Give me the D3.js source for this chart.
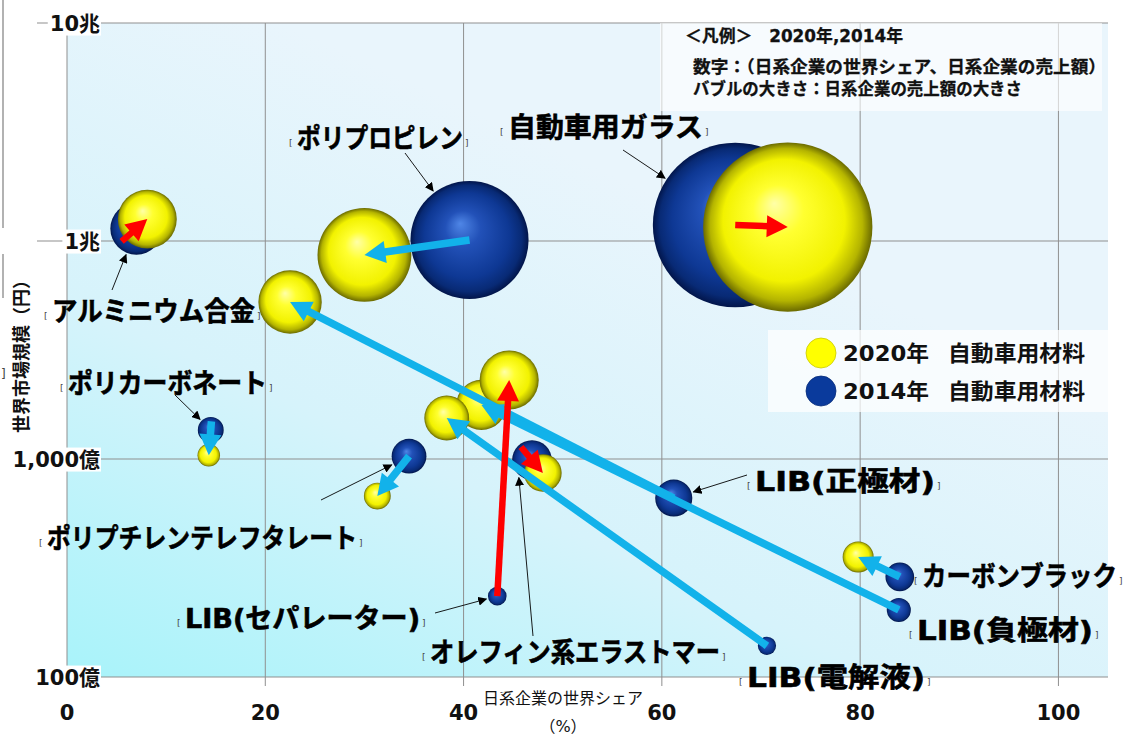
<!DOCTYPE html>
<html>
<head>
<meta charset="utf-8">
<script src="https://cdn.jsdelivr.net/npm/d3@7"></script>
<style>
  body { margin: 0; background: #fff; }
  svg { display: block; }
  text { font-family: "DejaVu Sans", "Noto Sans CJK JP", sans-serif; }
</style>
</head>
<body>
<div id="chart"></div>
<script>

// Materials (one entry per bubble pair)
var materials = ["アルミニウム合金", "ポリプロピレン", "自動車用ガラス", "ポリカーボネート",
  "ポリプチレンテレフタレート", "LIB(正極材)", "LIB(負極材)", "カーボンブラック",
  "LIB(電解液)", "オレフィン系エラストマー", "LIB(セパレーター)"];

// Japanese companies' world share (%)
var share2014 = [7.0, 40.6, 67.4, 14.5, 34.5, 61.2, 83.9, 84.0, 70.6, 46.9, 43.4];
var share2020 = [8.1, 30.0, 72.7, 14.3, 31.3, 22.5, 41.8, 79.8, 38.3, 48.0, 44.6];

// World market size (億円)
var market2014 = [11400, 10100, 11840, 1360, 1030, 662, 203, 288, 139, 989, 235];
var market2020 = [12600, 8630, 11590, 1040, 676, 5250, 1770, 355, 1542, 863, 2303];

// Axis ticks
var xTicks = [0, 20, 40, 60, 80, 100];
var yTicks = [100, 1000, 10000, 100000];
var yTickLabels = ["100億", "1,000億", "1兆", "10兆"];

var legendYears = ["2020年", "2014年"];
var noteLines = ["＜凡例＞　2020年,2014年", "数字：（日系企業の世界シェア、日系企業の売上額）", "バブルの大きさ：日系企業の売上額の大きさ"];

// Label placement (pixels): text left x, centre y, width, pointer start, optional pointer direction
var labelLayout = [
  { x: 52, y: 311, w: 203, px: 112, py: 290 },
  { x: 297, y: 138, w: 166, px: 405, py: 153 },
  { x: 508, y: 127, w: 195, px: 623, py: 150 },
  { x: 68, y: 383, w: 199, px: 175, py: 395 },
  { x: 47, y: 538, w: 310, px: 321, py: 500 },
  { x: 755, y: 481, w: 180, px: 747, py: 475 },
  { x: 917, y: 630, w: 176 },
  { x: 922, y: 576, w: 195 },
  { x: 747, y: 677, w: 178 },
  { x: 430, y: 652, w: 290, px: 533, py: 636, dir: [-0.6, 0.8] },
  { x: 185, y: 618, w: 235, px: 435, py: 613 }
];

var W = 1130, H = 734;
var plot = { left: 67, right: 1108, top: 23, bottom: 677 };

var svg = d3.select("#chart").append("svg")
  .attr("width", W).attr("height", H);

var defs = svg.append("defs");

// plot background gradient
var bg = defs.append("linearGradient").attr("id", "bg")
  .attr("x1", 0).attr("y1", 1).attr("x2", 0.55).attr("y2", 0.25);
bg.append("stop").attr("offset", 0).attr("stop-color", "#a8f3fa");
bg.append("stop").attr("offset", 0.5).attr("stop-color", "#d6f3fb");
bg.append("stop").attr("offset", 1).attr("stop-color", "#e9f5fc");

// sphere shading
function sphere(id, stops) {
  var g = defs.append("radialGradient").attr("id", id)
    .attr("cx", "50%").attr("cy", "50%").attr("r", "50%")
    .attr("fx", "42%").attr("fy", "36%");
  stops.forEach(function (s) {
    g.append("stop").attr("offset", s[0]).attr("stop-color", s[1]);
  });
}
sphere("yellowBall", [[0, "#ffffa8"], [0.3, "#ffff30"], [0.72, "#f2f200"], [0.9, "#b4b400"], [1, "#6a6a00"]]);
sphere("navyBall", [[0, "#4f86e6"], [0.3, "#2251b8"], [0.72, "#0e3894"], [0.9, "#082a75"], [1, "#02154a"]]);

defs.append("marker").attr("id", "tip")
  .attr("viewBox", "0 0 10 10").attr("refX", 9).attr("refY", 5)
  .attr("markerWidth", 9).attr("markerHeight", 9).attr("markerUnits", "userSpaceOnUse")
  .attr("orient", "auto")
  .append("path").attr("d", "M0,0L10,5L0,10Z").attr("fill", "#000");

// Scales
var x = d3.scaleLinear().domain([0, 105]).range([plot.left, plot.right]);
var y = d3.scaleLog().domain([100, 100000]).range([plot.bottom, plot.top]);
var r = d3.scaleSqrt().domain([0, 10000]).range([0, 92.2]); // sales 億円

// Background
svg.append("rect")
  .attr("x", plot.left).attr("y", plot.top)
  .attr("width", plot.right - plot.left).attr("height", plot.bottom - plot.top)
  .attr("fill", "url(#bg)");

// Grid
svg.append("g").selectAll("line").data(xTicks).enter().append("line")
  .attr("x1", function (d) { return x(d); }).attr("x2", function (d) { return x(d); })
  .attr("y1", plot.top).attr("y2", plot.bottom + 9)
  .attr("stroke", "#8f8f8f").attr("stroke-width", 1);
svg.append("g").selectAll("line").data(yTicks).enter().append("line")
  .attr("x1", plot.left - 30).attr("x2", plot.right)
  .attr("y1", function (d) { return y(d); }).attr("y2", function (d) { return y(d); })
  .attr("stroke", "#8f8f8f").attr("stroke-width", 1);

// Note box (top right)
svg.append("rect").attr("x", 660).attr("y", plot.top).attr("width", 442).attr("height", 88)
  .attr("fill", "#fff").attr("opacity", 0.62);
var noteY = [36, 67, 89], noteX = [685, 693, 693], noteW = [218, 413, 329];
noteLines.forEach(function (t, i) {
  svg.append("text").attr("x", noteX[i]).attr("y", noteY[i]).attr("dy", "0.36em")
    .attr("font-size", 17).attr("font-weight", 700).attr("fill", "#111")
    .attr("stroke", "#111").attr("stroke-width", 0.3)
    .attr("textLength", noteW[i]).attr("lengthAdjust", "spacingAndGlyphs")
    .text(t);
});

// Legend box
svg.append("rect").attr("x", 768).attr("y", 330).attr("width", 340).attr("height", 82)
  .attr("fill", "#fff").attr("opacity", 0.72);
var legendFill = ["#ffff00", "#0a3a9c"];
legendYears.forEach(function (t, i) {
  var cy = 353 + i * 38;
  svg.append("circle").attr("cx", 821).attr("cy", cy).attr("r", 15)
    .attr("fill", legendFill[i]).attr("stroke", i === 0 ? "#c9c900" : "#072c7a").attr("stroke-width", 0.8);
  svg.append("text").attr("x", 843).attr("y", cy).attr("dy", "0.36em")
    .attr("font-size", 22).attr("font-weight", 700).attr("fill", "#111")
    .attr("textLength", 86).attr("lengthAdjust", "spacingAndGlyphs")
    .text(t);
  svg.append("text").attr("x", 948).attr("y", cy).attr("dy", "0.36em")
    .attr("font-size", 22).attr("font-weight", 700).attr("fill", "#111")
    .attr("textLength", 137).attr("lengthAdjust", "spacingAndGlyphs")
    .text("自動車用材料");
});

// Build rows
var rows = materials.map(function (m, i) {
  return {
    name: m,
    x14: x(share2014[i]), y14: y(market2014[i]), r14: r(share2014[i] * market2014[i] / 100),
    x20: x(share2020[i]), y20: y(market2020[i]), r20: r(share2020[i] * market2020[i] / 100),
    up: share2020[i] > share2014[i],
    lay: labelLayout[i]
  };
});

// Bubbles: 2014 first, then 2020
var bubbles = svg.append("g");
bubbles.selectAll("circle.b14").data(rows).enter().append("circle")
  .attr("class", "b14")
  .attr("cx", function (d) { return d.x14; }).attr("cy", function (d) { return d.y14; })
  .attr("r", function (d) { return d.r14; })
  .attr("fill", "url(#navyBall)");
bubbles.selectAll("circle.b20").data(rows).enter().append("circle")
  .attr("class", "b20")
  .attr("cx", function (d) { return d.x20; }).attr("cy", function (d) { return d.y20; })
  .attr("r", function (d) { return d.r20; })
  .attr("fill", "url(#yellowBall)");

// Change arrows (2014 -> 2020); short moves get a minimum visible length
var arrows = svg.append("g");
rows.forEach(function (d) {
  var col = d.up ? "#ff0000" : "#12b2ea";
  var w = d.up ? 6.5 : 7.5, hl = 21, hw = 11;
  var dx = d.x20 - d.x14, dy = d.y20 - d.y14, L = Math.hypot(dx, dy);
  var ux = dx / L, uy = dy / L;
  var len = Math.max(L, 34);
  var sx = d.x20 - ux * len, sy = d.y20 - uy * len;
  var bx = d.x20 - ux * hl, by = d.y20 - uy * hl;
  arrows.append("line")
    .attr("x1", sx).attr("y1", sy).attr("x2", bx + ux * 2).attr("y2", by + uy * 2)
    .attr("stroke", col).attr("stroke-width", w);
  arrows.append("path")
    .attr("d", "M" + d.x20 + "," + d.y20 +
      "L" + (bx - uy * hw) + "," + (by + ux * hw) +
      "L" + (bx + uy * hw) + "," + (by - ux * hw) + "Z")
    .attr("fill", col);
});

// Labels and pointer lines
var labels = svg.append("g");
rows.forEach(function (d) {
  var l = d.lay;
  labels.append("text").attr("x", l.x - 8).attr("y", l.y + 8)
    .attr("font-size", 9).attr("fill", "#444").text("[");
  labels.append("text").attr("x", l.x + l.w + 2).attr("y", l.y + 8)
    .attr("font-size", 9).attr("fill", "#444").text("]");
  labels.append("text").attr("x", l.x).attr("y", l.y).attr("dy", "0.36em")
    .attr("font-family", "'Noto Sans CJK JP', sans-serif")
    .attr("font-size", 27).attr("font-weight", 700).attr("fill", "#000")
    .attr("stroke", "#000").attr("stroke-width", 0.6)
    .attr("textLength", l.w).attr("lengthAdjust", "spacingAndGlyphs")
    .text(d.name);
  if (l.px !== undefined) {
    var vx = l.px - d.x14, vy = l.py - d.y14, L = Math.hypot(vx, vy);
    var ux = vx / L, uy = vy / L;
    if (l.dir) { ux = l.dir[0]; uy = l.dir[1]; }
    var ex = d.x14 + ux * (d.r14 + 2), ey = d.y14 + uy * (d.r14 + 2);
    labels.append("line")
      .attr("x1", l.px).attr("y1", l.py).attr("x2", ex).attr("y2", ey)
      .attr("stroke", "#000").attr("stroke-width", 0.9)
      .attr("marker-end", "url(#tip)");
  }
});

// Y tick labels with white backing
var yl = svg.append("g");
yTicks.forEach(function (t, i) {
  var txt = yl.append("text").attr("x", 100).attr("y", y(t)).attr("dy", "0.36em")
    .attr("text-anchor", "end").attr("font-size", 21).attr("font-weight", 700).attr("fill", "#111")
    .text(yTickLabels[i]);
  var bb = txt.node().getBBox();
  yl.insert("rect", "text").attr("x", bb.x - 2).attr("y", bb.y).attr("width", bb.width + 3).attr("height", bb.height)
    .attr("fill", "#fff");
});

// X tick labels
svg.append("g").selectAll("text").data(xTicks).enter().append("text")
  .attr("x", function (d) { return x(d); }).attr("y", 720)
  .attr("text-anchor", "middle").attr("font-size", 21).attr("font-weight", 700).attr("fill", "#111")
  .text(function (d) { return d; });

// Axis titles
svg.append("text").attr("x", 563).attr("y", 698).attr("dy", "0.36em")
  .attr("text-anchor", "middle").attr("font-size", 16).attr("fill", "#111")
  .attr("font-family", "'Noto Sans CJK JP', sans-serif")
  .text("日系企業の世界シェア");
svg.append("text").attr("x", 563).attr("y", 726).attr("dy", "0.36em")
  .attr("text-anchor", "middle").attr("font-size", 16).attr("fill", "#111")
  .attr("font-family", "'Noto Sans CJK JP', sans-serif")
  .text("（%）");
svg.append("text")
  .attr("transform", "translate(22,352) rotate(-90)")
  .attr("dy", "0.36em").attr("text-anchor", "middle")
  .attr("font-size", 18).attr("font-weight", 700).attr("fill", "#111")
  .attr("font-family", "'Noto Sans CJK JP', sans-serif")
  .text("世界市場規模（円）");

// stray marks along the left edge of the original slide
svg.append("line").attr("x1", 3).attr("x2", 3).attr("y1", 0).attr("y2", 228)
  .attr("stroke", "#999").attr("stroke-width", 1.5);
svg.append("line").attr("x1", 3).attr("x2", 3).attr("y1", 254).attr("y2", 298)
  .attr("stroke", "#999").attr("stroke-width", 1.5);
svg.append("text").attr("x", 1).attr("y", 378).attr("font-size", 12).attr("fill", "#444").text("]");

</script>
</body>
</html>
